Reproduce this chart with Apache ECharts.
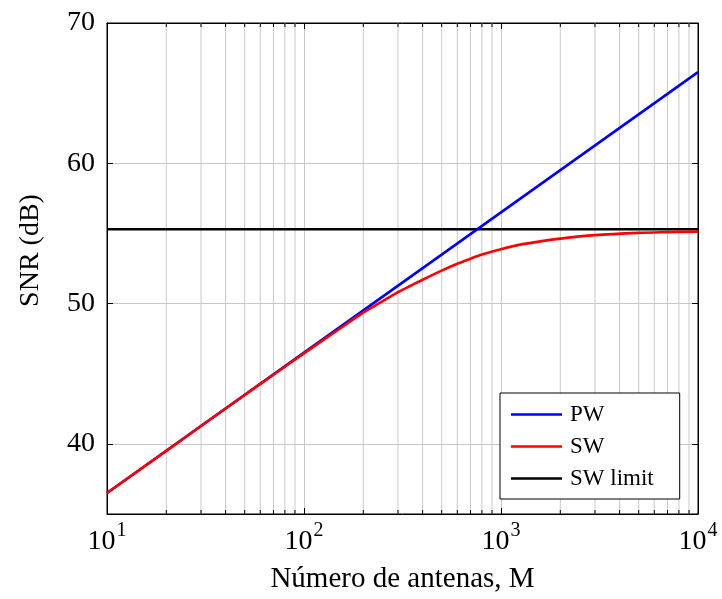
<!DOCTYPE html>
<html>
<head>
<meta charset="utf-8">
<script src="https://cdn.jsdelivr.net/npm/echarts@6/dist/echarts.min.js"></script>
<style>
html,body{margin:0;padding:0;background:#fff;}
#chart{width:722px;height:599px;}
</style>
</head>
<body>
<div id="chart"></div>
<script>
// ---- data ----
const xMin = 10, xMax = 10000;
const yMin = 35, yMax = 70;
const xMinorTicks = [20,30,40,50,60,70,80,90,200,300,400,500,600,700,800,900,2000,3000,4000,5000,6000,7000,8000,9000];
const pwM   = [10, 100, 1000, 10000];
const pwSNR = [36.5, 46.5, 56.5, 66.5];
const swM   = [10, 20, 30, 50, 70, 100, 150, 200, 250, 300, 350, 400, 500, 600, 700, 800, 1000, 1200, 1500, 2000, 3000, 5000, 7000, 10000];
const swSNR = [36.5, 39.5, 41.27, 43.48, 44.93, 46.45, 48.15, 49.35, 50.15, 50.82, 51.29, 51.7, 52.35, 52.84, 53.2, 53.5, 53.88, 54.15, 54.38, 54.63, 54.88, 55.04, 55.09, 55.13];
const limM   = [10, 10000];
const limSNR = [55.3, 55.3];
const seriesNames = ['PW', 'SW', 'SW limit'];
const xTitle = 'Número de antenas, M';
const yTitle = 'SNR (dB)';

const FONT = 'Liberation Serif';
const zip = (a, b) => a.map((v, i) => [v, b[i]]);

const chart = echarts.init(document.getElementById('chart'), null, {renderer: 'canvas'});
const option = {
  backgroundColor: '#fff',
  animation: false,
  grid: {left: 107, right: 24, top: 23, bottom: 84, show: true, borderColor: '#000', borderWidth: 1},
  xAxis: [{
    type: 'log', logBase: 10, min: xMin, max: xMax, position: 'bottom',
    name: xTitle, nameLocation: 'middle', nameGap: 51,
    nameTextStyle: {fontFamily: FONT, fontSize: 29, color: '#000'},
    axisLine: {show: true, lineStyle: {color: '#000', width: 1}},
    axisTick: {show: true, inside: true, length: 6, lineStyle: {color: '#000'}},
    axisLabel: {
      margin: 7,
      formatter: v => '{b|10}{s|' + Math.round(Math.log10(v)) + '}',
      rich: {
        b: {fontFamily: FONT, fontSize: 28, color: '#000', verticalAlign: 'bottom'},
        s: {fontFamily: FONT, fontSize: 20, color: '#000', verticalAlign: 'bottom', padding: [0,0,15,1]}
      }
    },
    splitLine: {show: true, lineStyle: {color: '#c8c8c8', width: 1}}
  }, {
    type: 'log', logBase: 10, min: xMin, max: xMax, position: 'top',
    axisLine: {show: true, lineStyle: {color: '#000'}},
    axisTick: {show: true, inside: true, length: 6, lineStyle: {color: '#000'}},
    axisLabel: {show: false}, splitLine: {show: false}
  }],
  yAxis: [{
    type: 'value', min: yMin, max: yMax, position: 'left',
    name: yTitle, nameLocation: 'middle', nameGap: 62, nameRotate: 90,
    nameTextStyle: {fontFamily: FONT, fontSize: 28, color: '#000', padding: [0, 0, 0, 36]},
    axisLine: {show: true, lineStyle: {color: '#000'}},
    axisTick: {show: true, inside: true, length: 6, lineStyle: {color: '#000'}},
    axisLabel: {showMinLabel: false, margin: 12, fontFamily: FONT, fontSize: 28, color: '#000',
      formatter: v => (v % 10 === 0 ? String(v) : '')},
    splitLine: {show: true, lineStyle: {color: '#c8c8c8', width: 1}}
  }, {
    type: 'value', min: yMin, max: yMax, position: 'right',
    axisLine: {show: true, lineStyle: {color: '#000'}},
    axisTick: {show: true, inside: true, length: 6, lineStyle: {color: '#000'}},
    axisLabel: {show: false}, splitLine: {show: false}
  }],
  legend: {
    orient: 'vertical', left: 500, top: 393,
    data: seriesNames,
    icon: 'rect', itemWidth: 51, itemHeight: 2.5, itemGap: 9,
    padding: [10, 26, 9, 11],
    borderColor: '#000', borderWidth: 1, backgroundColor: '#fff',
    textStyle: {fontFamily: FONT, fontSize: 23, color: '#000', lineHeight: 23, padding: [0,0,0,3]}
  },
  series: [{
    type: 'custom', name: 'minor', xAxisIndex: 0, yAxisIndex: 0, z: 1, silent: true,
    data: xMinorTicks.map(v => [v, yMin]),
    encode: {x: 0, y: 1},
    renderItem: (params, api) => {
      const x = api.value(0);
      const b = api.coord([x, yMin]);
      const t = api.coord([x, yMax]);
      return {type: 'group', children: [
        {type: 'line', shape: {x1: b[0], y1: b[1], x2: t[0], y2: t[1]}, style: {stroke: '#c8c8c8', lineWidth: 1}},
        {type: 'line', shape: {x1: b[0], y1: b[1], x2: b[0], y2: b[1] - 4}, style: {stroke: '#000', lineWidth: 1}},
        {type: 'line', shape: {x1: t[0], y1: t[1], x2: t[0], y2: t[1] + 4}, style: {stroke: '#000', lineWidth: 1}}
      ]};
    }
  }, {
    type: 'line', name: seriesNames[0], data: zip(pwM, pwSNR), showSymbol: false, symbol: 'none', z: 4,
    lineStyle: {color: '#0000ff', width: 2.6}, itemStyle: {color: '#0000ff'}
  }, {
    type: 'line', name: seriesNames[1], data: zip(swM, swSNR), showSymbol: false, symbol: 'none', smooth: 0.3, z: 5,
    lineStyle: {color: '#ff0000', width: 2.6}, itemStyle: {color: '#ff0000'}
  }, {
    type: 'line', name: seriesNames[2], data: zip(limM, limSNR), showSymbol: false, symbol: 'none', z: 3,
    lineStyle: {color: '#000000', width: 2.6}, itemStyle: {color: '#000000'}
  }]
};
chart.setOption(option);
</script>
</body>
</html>
